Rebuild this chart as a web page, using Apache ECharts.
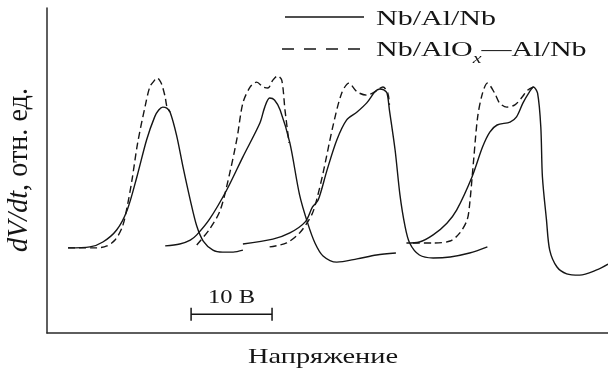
<!DOCTYPE html>
<html><head><meta charset="utf-8">
<script src="https://cdn.jsdelivr.net/npm/echarts@6/dist/echarts.min.js"></script>
<style>html,body{margin:0;padding:0;background:#fff}#c{width:608px;height:376px}</style>
</head><body><div id="c"></div>
<script>
// ---- data (x: volts, y: relative units) ----
const solidName = 'Nb/Al/Nb';
const dashedName = 'Nb/AlOx—Al/Nb';
const solid1 = [[2.6,26.2],[5.3,26.5],[6.9,28.0],[8.6,31.7],[9.9,37.8],[11.1,48.0],[12.3,59.4],[13.3,66.5],[13.8,68.6],[14.3,69.5],[14.8,69.2],[15.2,68.0],[16.0,60.9],[16.8,51.1],[17.7,40.9],[18.5,32.9],[19.3,28.3],[20.5,25.5],[21.7,24.9],[23.0,24.9],[24.2,25.5]];
const dashed1 = [[2.6,26.2],[6.2,26.2],[7.4,26.8],[8.4,28.6],[9.3,32.6],[9.9,38.8],[10.5,47.1],[11.2,58.5],[12.1,69.5],[12.7,75.7],[13.2,77.5],[13.6,78.5],[13.9,77.8],[14.2,76.3],[14.6,72.6],[14.8,69.8],[15.2,68.0]];
const solid2 = [[14.6,26.8],[16.4,27.4],[17.7,28.6],[18.5,30.2],[20.1,35.1],[22.2,44.0],[24.2,54.2],[26.3,64.6],[26.9,69.5],[27.5,72.3],[28.1,71.7],[28.8,68.6],[30.0,58.5],[31.2,42.5],[32.2,33.8],[33.1,27.7],[34.1,23.7],[35.8,21.8],[38.3,22.8],[40.7,24.0],[43.1,24.6]];
const dashed2 = [[18.5,27.1],[20.1,32.0],[21.4,37.8],[22.6,49.5],[23.5,60.3],[24.2,70.8],[25.1,75.7],[25.9,77.2],[26.7,75.7],[27.3,75.4],[27.9,77.8],[28.5,79.1],[29.0,77.8],[29.4,68.6],[29.9,58.5]];
const solid3 = [[24.2,27.4],[27.9,28.9],[30.0,30.8],[31.9,34.2],[32.8,38.8],[33.5,40.9],[34.6,50.2],[35.8,59.4],[37.0,65.5],[38.3,68.0],[39.5,70.8],[40.5,74.2],[41.1,75.1],[41.6,74.8],[42.0,73.8],[42.3,68.6],[43.0,56.3],[43.6,42.5],[44.2,33.2],[44.8,27.7],[46.0,24.0],[47.7,23.1],[49.8,23.4],[52.2,24.6],[54.4,26.5]];
const dashed3 = [[27.5,26.5],[29.6,27.7],[31.2,30.8],[32.1,33.8],[32.8,36.9],[33.3,40.9],[34.1,49.2],[35.3,63.4],[36.4,73.8],[37.3,76.9],[38.3,74.2],[39.5,73.2],[40.5,74.2],[41.5,75.7],[42.1,73.8],[42.3,70.2]];
const solid4 = [[44.4,27.7],[46.0,28.0],[47.7,30.2],[49.4,33.8],[50.6,37.8],[52.5,48.0],[53.8,57.2],[54.7,61.8],[55.6,64.0],[57.2,64.9],[58.0,66.5],[58.8,70.8],[59.6,74.2],[60.1,75.7],[60.6,73.8],[61.0,63.4],[61.2,48.0],[61.7,34.8],[62.1,25.5],[63.0,20.3],[64.2,18.2],[65.8,17.8],[67.9,19.4],[69.3,21.2]];
const dashed4 = [[45.2,27.7],[47.7,27.7],[49.8,28.3],[51.0,30.8],[51.9,34.8],[52.2,39.4],[52.7,53.2],[53.2,66.5],[53.8,73.8],[54.4,76.9],[55.3,73.8],[55.9,70.8],[56.8,69.5],[57.8,70.2],[58.6,72.3],[59.4,74.8],[60.1,75.7]];
const scaleBarX = [17.8, 27.8];   // 10 V
const scaleBarY = 5.8;
const scaleBarLabel = '10 В';
const xAxisTitle = 'Напряжение';
const yTitleItalic = 'dV/dt';
const yTitleRest = ', отн. ед.';
const xRange = [0, 69.3];
const yRange = [0, 100];

// ---- chart ----
const FONT = '"Liberation Serif", "Times New Roman", serif';
const INK = '#151515';
const chart = echarts.init(document.getElementById('c'));
const solids = [solid1, solid2, solid3, solid4];
const dashes = [dashed1, dashed2, dashed3, dashed4];
const series = [];
solids.forEach(d => series.push({name: solidName, type: 'line', data: d, smooth: 0.3, symbol: 'none',
  lineStyle: {color: INK, width: 1.4}, silent: true, z: 3}));
dashes.forEach(d => series.push({name: dashedName, type: 'line', data: d, smooth: 0.3, symbol: 'none',
  lineStyle: {color: INK, width: 1.4, type: [7, 4]}, silent: true, z: 2}));
series.push({type: 'line', data: scaleBarX.map(x => [x, scaleBarY]), symbol: 'rect', symbolSize: [1.5, 13],
  showSymbol: true, itemStyle: {color: INK}, lineStyle: {color: INK, width: 1.5}, silent: true});

const axisCommon = {type: 'value', axisLine: {show: true, onZero: false, lineStyle: {color: '#2a2a2a', width: 1.5}},
  axisTick: {show: false}, axisLabel: {show: false}, splitLine: {show: false}};
chart.setOption({
  animation: false,
  backgroundColor: '#fff',
  grid: {left: 47, right: 0, top: 8, bottom: 43},
  xAxis: Object.assign({min: xRange[0], max: xRange[1]}, axisCommon),
  yAxis: Object.assign({min: yRange[0], max: yRange[1]}, axisCommon),
  series: series
});

// ---- text & legend (horizontally stretched serif text, as in the reference) ----
const ctx = document.createElement('canvas').getContext('2d');
function tw(t, size, italic) { ctx.font = (italic ? 'italic ' : '') + size + 'px ' + FONT; return ctx.measureText(t).width; }
function txt(t, x, y, size, sx, opt) {
  opt = opt || {};
  return {type: 'text', x: x, y: y, scaleX: sx, scaleY: 1, silent: true,
    style: {text: t, fontFamily: FONT, fontSize: size, fontStyle: opt.italic ? 'italic' : 'normal',
      fill: INK, align: opt.align || 'left', verticalAlign: 'middle'}};
}
const LS = 21;
const lx = 376;
const legSX = 120 / tw(solidName, LS);
const t2a = 'Nb/AlO', t2b = 'x', t2c = '—Al/Nb';
const w2a = tw(t2a, LS) * legSX, w2b = tw(t2b, 14, true) * legSX;
const barMid = chart.convertToPixel({gridIndex: 0}, [(scaleBarX[0] + scaleBarX[1]) / 2, scaleBarY]);
const barSX = 47 / tw(scaleBarLabel, 18);
const xtSX = 150 / tw(xAxisTitle, 21);
const yLen = tw(yTitleItalic, 21, true) + tw(yTitleRest, 21);
const ytSX = 164 / yLen;
chart.setOption({graphic: [
  {type: 'line', silent: true, shape: {x1: 285, y1: 17, x2: 364, y2: 17}, style: {stroke: INK, lineWidth: 1.4}},
  {type: 'line', silent: true, shape: {x1: 282, y1: 49, x2: 364, y2: 49}, style: {stroke: INK, lineWidth: 1.4, lineDash: [12, 10]}},
  txt(solidName, lx, 19.5, LS, legSX),
  txt(t2a, lx, 50.5, LS, legSX),
  txt(t2b, lx + w2a, 59, 14, legSX, {italic: true}),
  txt(t2c, lx + w2a + w2b, 50.5, LS, legSX),
  txt(scaleBarLabel, barMid[0], barMid[1] - 15.5, 18, barSX, {align: 'center'}),
  txt(xAxisTitle, 323, 357, 21, xtSX, {align: 'center'}),
  {type: 'text', x: 19, y: 170, rotation: Math.PI / 2, scaleX: ytSX, scaleY: 1.45, silent: true,
    style: {text: '{i|' + yTitleItalic + '}{n|' + yTitleRest + '}', align: 'center', verticalAlign: 'middle', fill: INK,
      rich: {i: {fontFamily: FONT, fontSize: 21, fontStyle: 'italic', fill: INK}, n: {fontFamily: FONT, fontSize: 21, fill: INK}}}}
]});
</script></body></html>
